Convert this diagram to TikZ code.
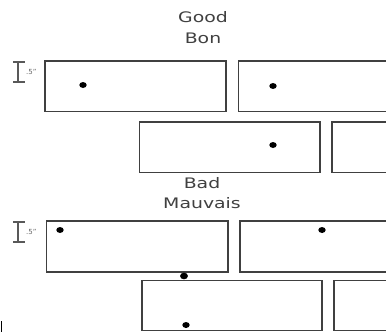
\documentclass[tikz,border=0pt]{standalone}
\usepackage{fontspec}
\setmainfont{DejaVu Sans}
\begin{document}
\begin{tikzpicture}[x=1pt,y=-1pt,
  brick/.style={draw=black!75,line width=1.3pt},
  dot/.style={fill=black},
  title/.style={font=\fontsize{14.5}{16}\selectfont,text=black!75,xscale=1.3,transform shape,inner sep=0pt,anchor=center},
  bracket/.style={draw=black!65,line width=1.2pt},
  dimlabel/.style={font=\fontsize{7}{8}\selectfont,text=black!60,inner sep=0pt,anchor=west}]
\useasboundingbox (0,0) rectangle (386,332);
\begin{scope}
\clip (0,0) rectangle (386,332);
% Good
\node[title] (good) at (203,17.5) {Good};
\node[title] (bon) at (203,38) {Bon};
\draw[brick] (45,61) rectangle (226,111.5);
\draw[brick] (238.5,61) rectangle (400,111.5);
\draw[brick] (139.5,122) rectangle (320,172.5);
\draw[brick] (332,122) rectangle (400,172.5);
\fill[dot] (83,85) ellipse (3.7 and 3);
\fill[dot] (273,86) ellipse (3.7 and 3);
\fill[dot] (273,145) ellipse (3.7 and 3);
\draw[bracket] (13,62) -- (25,62) (18,62) -- (18,82) (13,82) -- (25,82);
\node[dimlabel] (dimg) at (26,72) {.5"};
% Bad
\node[title] (bad) at (202,183) {Bad};
\node[title] (mauvais) at (202,203.5) {Mauvais};
\draw[brick] (46.5,221) rectangle (228,272);
\draw[brick] (240,221) rectangle (400,272);
\draw[brick] (142,280.5) rectangle (322,330.5);
\draw[brick] (334,280.5) rectangle (400,330.5);
\fill[dot] (60,230) ellipse (3.7 and 3);
\fill[dot] (322,230) ellipse (3.7 and 3);
\fill[dot] (184,276) ellipse (3.9 and 3.3);
\fill[dot] (186,325) ellipse (3.7 and 3);
\draw[bracket] (13,222) -- (25,222) (18,222) -- (18,242) (13,242) -- (25,242);
\node[dimlabel] (dimb) at (26,231.5) {.5"};
\draw[black,line width=1.2pt] (1.5,321) -- (1.5,332);
\end{scope}
\end{tikzpicture}
\end{document}
